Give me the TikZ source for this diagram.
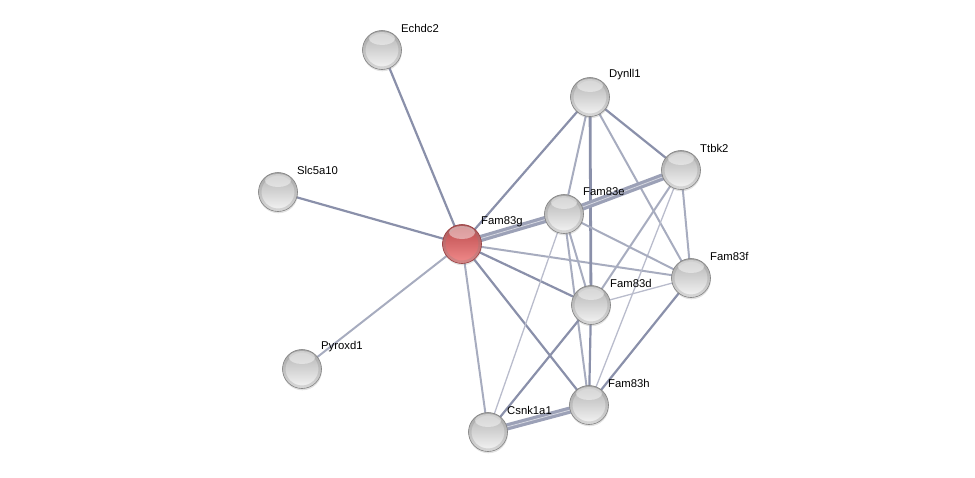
\documentclass[tikz,border=0pt]{standalone}
\usepackage{fontspec}
\setmainfont{Liberation Sans}
\usetikzlibrary{backgrounds,shadows}

\definecolor{edgec}{RGB}{138,144,170}
\definecolor{topgray}{RGB}{178,178,178}
\definecolor{botgray}{RGB}{245,245,245}
\definecolor{rimgray}{RGB}{128,128,128}
\definecolor{topred}{RGB}{185,72,74}
\definecolor{botred}{RGB}{242,140,140}
\definecolor{rimred}{RGB}{150,60,62}

\tikzset{
    protnode/.style={circle, minimum size=39pt, inner sep=0pt,
        top color=topgray, bottom color=botgray, draw=rimgray, line width=0.6pt,
        drop shadow={opacity=0.22, shadow xshift=0.4pt, shadow yshift=-1.8pt},
        path picture={
            \draw[rimgray, opacity=0.25, line width=3pt]
                (path picture bounding box.center) circle (18pt);
            \fill[white, opacity=0.45]
                ([yshift=-8pt]path picture bounding box.north) ellipse (13pt and 6.5pt);}},
    querynode/.style={protnode, top color=topred, bottom color=botred, draw=rimred},
    lbl/.style={anchor=west, inner sep=0pt, font=\fontsize{11.3}{13}\selectfont},
    edge/.style={draw=edgec, line width=2.2pt},
    lightedge/.style={draw=edgec!75, line width=2pt},
    thinedge/.style={draw=edgec!60, line width=1.3pt},
    dualedge/.style={draw=edgec!85, line width=3.2pt, double=edgec!35, double distance=0.8pt},
}

\begin{document}
\begin{tikzpicture}[x=1pt, y=-1pt]
    \useasboundingbox (0,0) rectangle (975,477);

    % Proteins
    \node[querynode] (fam83g) at (462,244) {};
    \node[protnode] (echdc2)  at (382,50)  {};
    \node[protnode] (dynll1)  at (590,97)  {};
    \node[protnode] (ttbk2)   at (681,170) {};
    \node[protnode] (slc5a10) at (278,192) {};
    \node[protnode] (fam83e)  at (564,214) {};
    \node[protnode] (fam83f)  at (691,278) {};
    \node[protnode] (fam83d)  at (591,305) {};
    \node[protnode] (pyroxd1) at (302,369) {};
    \node[protnode] (fam83h)  at (589,405) {};
    \node[protnode] (csnk1a1) at (488,432) {};

    % Labels
    \node[lbl] (fam83g-t)  at ([shift={(19,-22)}]fam83g.center)  {Fam83g};
    \node[lbl] (echdc2-t)  at ([shift={(19,-22)}]echdc2.center)  {Echdc2};
    \node[lbl] (dynll1-t)  at ([shift={(19,-22)}]dynll1.center)  {Dynll1};
    \node[lbl] (ttbk2-t)   at ([shift={(19,-22)}]ttbk2.center)   {Ttbk2};
    \node[lbl] (slc5a10-t) at ([shift={(19,-22)}]slc5a10.center) {Slc5a10};
    \node[lbl] (fam83e-t)  at ([shift={(19,-22)}]fam83e.center)  {Fam83e};
    \node[lbl] (fam83f-t)  at ([shift={(19,-22)}]fam83f.center)  {Fam83f};
    \node[lbl] (fam83d-t)  at ([shift={(19,-22)}]fam83d.center)  {Fam83d};
    \node[lbl] (pyroxd1-t) at ([shift={(19,-22)}]pyroxd1.center) {Pyroxd1};
    \node[lbl] (fam83h-t)  at ([shift={(19,-22)}]fam83h.center)  {Fam83h};
    \node[lbl] (csnk1a1-t) at ([shift={(19,-22)}]csnk1a1.center) {Csnk1a1};

    \begin{pgfonlayer}{background}
        % --- Edges of the query protein ---
        \foreach \p in {echdc2,slc5a10,dynll1,fam83d,fam83h}
            \draw[edge] (fam83g.center) -- (\p.center);
        \foreach \p in {pyroxd1,fam83f,csnk1a1}
            \draw[lightedge] (fam83g.center) -- (\p.center);
        \draw[dualedge] (fam83g.center) -- (fam83e.center);

        % --- Dynll1 ---
        \draw[edge] (dynll1.center) -- (ttbk2.center);
        \draw[edge, line width=2.8pt] (dynll1.center) -- (fam83d.center);
        \draw[lightedge] (dynll1.center) -- (fam83e.center);
        \draw[lightedge] (dynll1.center) -- (fam83f.center);

        % --- Ttbk2 ---
        \draw[dualedge] (ttbk2.center) -- (fam83e.center);
        \draw[lightedge] (ttbk2.center) -- (fam83f.center);
        \draw[lightedge] (ttbk2.center) -- (fam83d.center);
        \draw[thinedge] (ttbk2.center) -- (fam83h.center);

        % --- Fam83 family ---
        \draw[lightedge] (fam83e.center) -- (fam83f.center);
        \draw[lightedge] (fam83e.center) -- (fam83d.center);
        \draw[lightedge] (fam83e.center) -- (fam83h.center);
        \draw[thinedge] (fam83e.center) -- (csnk1a1.center);
        \draw[thinedge] (fam83f.center) -- (fam83d.center);
        \draw[edge] (fam83f.center) -- (fam83h.center);
        \draw[edge] (fam83d.center) -- (fam83h.center);
        \draw[edge] (fam83d.center) -- (csnk1a1.center);

        % --- Csnk1a1 ---
        \draw[dualedge] (csnk1a1.center) -- (fam83h.center);
    \end{pgfonlayer}
\end{tikzpicture}
\end{document}
